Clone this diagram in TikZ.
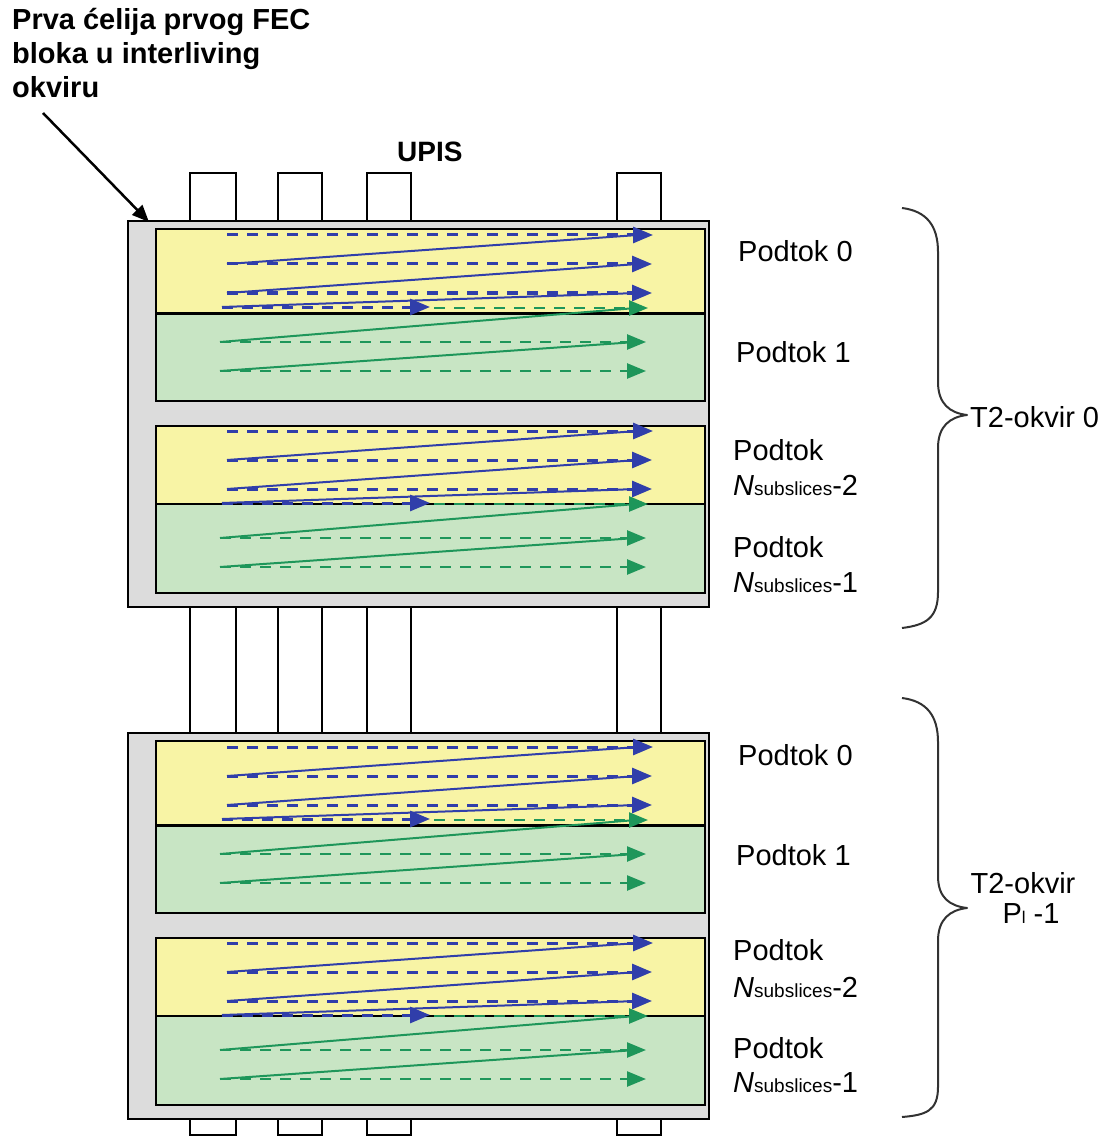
\documentclass[tikz,border=0pt]{standalone}
\usepackage{fontspec}
\setmainfont{Liberation Sans}
\usetikzlibrary{arrows.meta}
\definecolor{myblue}{RGB}{48,62,170}
\definecolor{mygreen}{RGB}{30,150,90}
\definecolor{panelyellow}{RGB}{248,244,165}
\definecolor{panelgreen}{RGB}{200,229,196}
\definecolor{framegray}{RGB}{220,220,220}
\definecolor{bracegray}{RGB}{50,50,50}

\tikzset{
  lbl/.style={inner sep=0pt, anchor=base west, font=\fontsize{29}{34}\selectfont},
  lblc/.style={inner sep=0pt, anchor=base, font=\fontsize{29}{34}\selectfont},
  ttl/.style={inner sep=0pt, anchor=base west, font=\fontsize{29}{34}\selectfont\bfseries},
  framebox/.style={draw=black, line width=1.5pt, fill=framegray},
  ypanel/.style={draw=black, line width=1.5pt, fill=panelyellow},
  gpanel/.style={draw=black, line width=1.5pt, fill=panelgreen},
  tabbox/.style={draw=black, line width=1.5pt, fill=white},
  bdash/.style={myblue, line width=3pt, dash pattern=on 11pt off 9pt},
  bsolid/.style={myblue, line width=2pt},
  gdash/.style={mygreen, line width=2.5pt, dash pattern=on 11pt off 9pt},
  gsolid/.style={mygreen, line width=2pt},
  btip/.style={-{Triangle[length=20pt,width=16pt]}},
  gtip/.style={-{Triangle[length=19pt,width=15pt]}},
  ptr/.style={black, line width=2.5pt, -{Triangle[length=17pt,width=14pt]}},
  bracestyle/.style={bracegray, line width=2pt, line join=round}
}

% rows: #1 r1, #2 r2, #3 r3, #4 boundary row, #5 g1, #6 g2
\newcommand{\drawrows}[6]{%
  \draw[bdash,btip] (227,#1) -- (653,#1);
  \draw[bdash,btip] (227,#2) -- (652,#2);
  \draw[bdash,btip] (227,#3) -- (652,#3);
  \draw[bsolid] (227,#2) -- (638,#1);
  \draw[bsolid] (227,#3) -- (638,#2);
  \draw[bsolid] (222,#4) -- (638,#3);
  \draw[bdash,btip] (222,#4) -- (430,#4);
  \draw[gdash,gtip] (434,#4+1) -- (648,#4+1);
  \draw[gsolid] (220,#5) -- (636,#4+1);
  \draw[gdash,gtip] (220,#5) -- (646,#5);
  \draw[gsolid] (220,#6) -- (636,#5);
  \draw[gdash,gtip] (220,#6) -- (646,#6);
}

\begin{document}
\begin{tikzpicture}[x=1pt,y=-1pt]
\useasboundingbox (0,0) rectangle (1107,1139);

% top tabs
\foreach \a/\b in {190/236,278/322,367/411,617/661}{
  \draw[tabbox] (\a,173) rectangle (\b,221);
  \draw[black, line width=1.5pt] (\a,607) -- (\a,733);
  \draw[black, line width=1.5pt] (\b,607) -- (\b,733);
  \draw[tabbox] (\a,1119) rectangle (\b,1135);
}

% the two T2 frames
\foreach \o in {0,512}{
\begin{scope}[yshift=-\o pt]
  \draw[framebox] (128,221) rectangle (709,607);
  \draw[ypanel] (156,229) rectangle (705,313);
  \draw[gpanel] (156,313) rectangle (705,401);
  \draw[black, line width=3pt] (156,313) -- (705,313);
  \draw[ypanel] (156,426) rectangle (705,504);
  \draw[gpanel] (156,504) rectangle (705,593);
  \drawrows{235}{264}{293}{307}{342}{371}
  \drawrows{431}{460}{489}{503}{538}{567}
\end{scope}
}

% title and pointer
\node[ttl] (title1) at (12,30) {Prva ćelija prvog FEC};
\node[ttl] (title2) at (12,64) {bloka u interliving};
\node[ttl] (title3) at (12,98) {okviru};
\coordinate (ptrfrom) at (43,113);
\coordinate (firstcell) at (149,222);
\draw[ptr] (ptrfrom) -- (firstcell);

\node[ttl, font=\fontsize{28}{34}\selectfont\bfseries] (upis) at (397,162) {UPIS};

% labels top frame
\node[lbl] (a0) at (738,262) {Podtok 0};
\node[lbl] (a1) at (736,362) {Podtok 1};
\node[lbl] (a2) at (733,460) {Podtok};
\node[lbl] (a2n) at (733,495) {\textit{N}{\fontsize{19}{19}\selectfont subslices}-2};
\node[lbl] (a3) at (733,557) {Podtok};
\node[lbl] (a3n) at (733,592) {\textit{N}{\fontsize{19}{19}\selectfont subslices}-1};

% labels bottom frame
\node[lbl] (b0) at (738,765) {Podtok 0};
\node[lbl] (b1) at (736,865) {Podtok 1};
\node[lbl] (b2) at (733,960) {Podtok};
\node[lbl] (b2n) at (733,997) {\textit{N}{\fontsize{19}{19}\selectfont subslices}-2};
\node[lbl] (b3) at (733,1058) {Podtok};
\node[lbl] (b3n) at (733,1092) {\textit{N}{\fontsize{19}{19}\selectfont subslices}-1};

% braces
\draw[bracestyle] (902,208) .. controls (926,211) and (938,225) .. (938,252)
  -- (938,382) .. controls (938,404) and (950,413) .. (967,415)
  .. controls (950,417) and (938,426) .. (938,448)
  -- (938,592) .. controls (938,618) and (926,625) .. (902,628);
\node[lbl] (t2a) at (970,427) {T2-okvir 0};

\draw[bracestyle] (902,698) .. controls (926,701) and (938,715) .. (938,742)
  -- (938,876) .. controls (938,898) and (950,906) .. (967,908)
  .. controls (950,910) and (938,919) .. (938,941)
  -- (938,1087) .. controls (938,1111) and (926,1115) .. (902,1117);
\node[lblc] (t2b) at (1023,893) {T2-okvir};
\node[lblc] (t2bp) at (1031,923) {P{\fontsize{17}{17}\selectfont l} -1};

\end{tikzpicture}
\end{document}
